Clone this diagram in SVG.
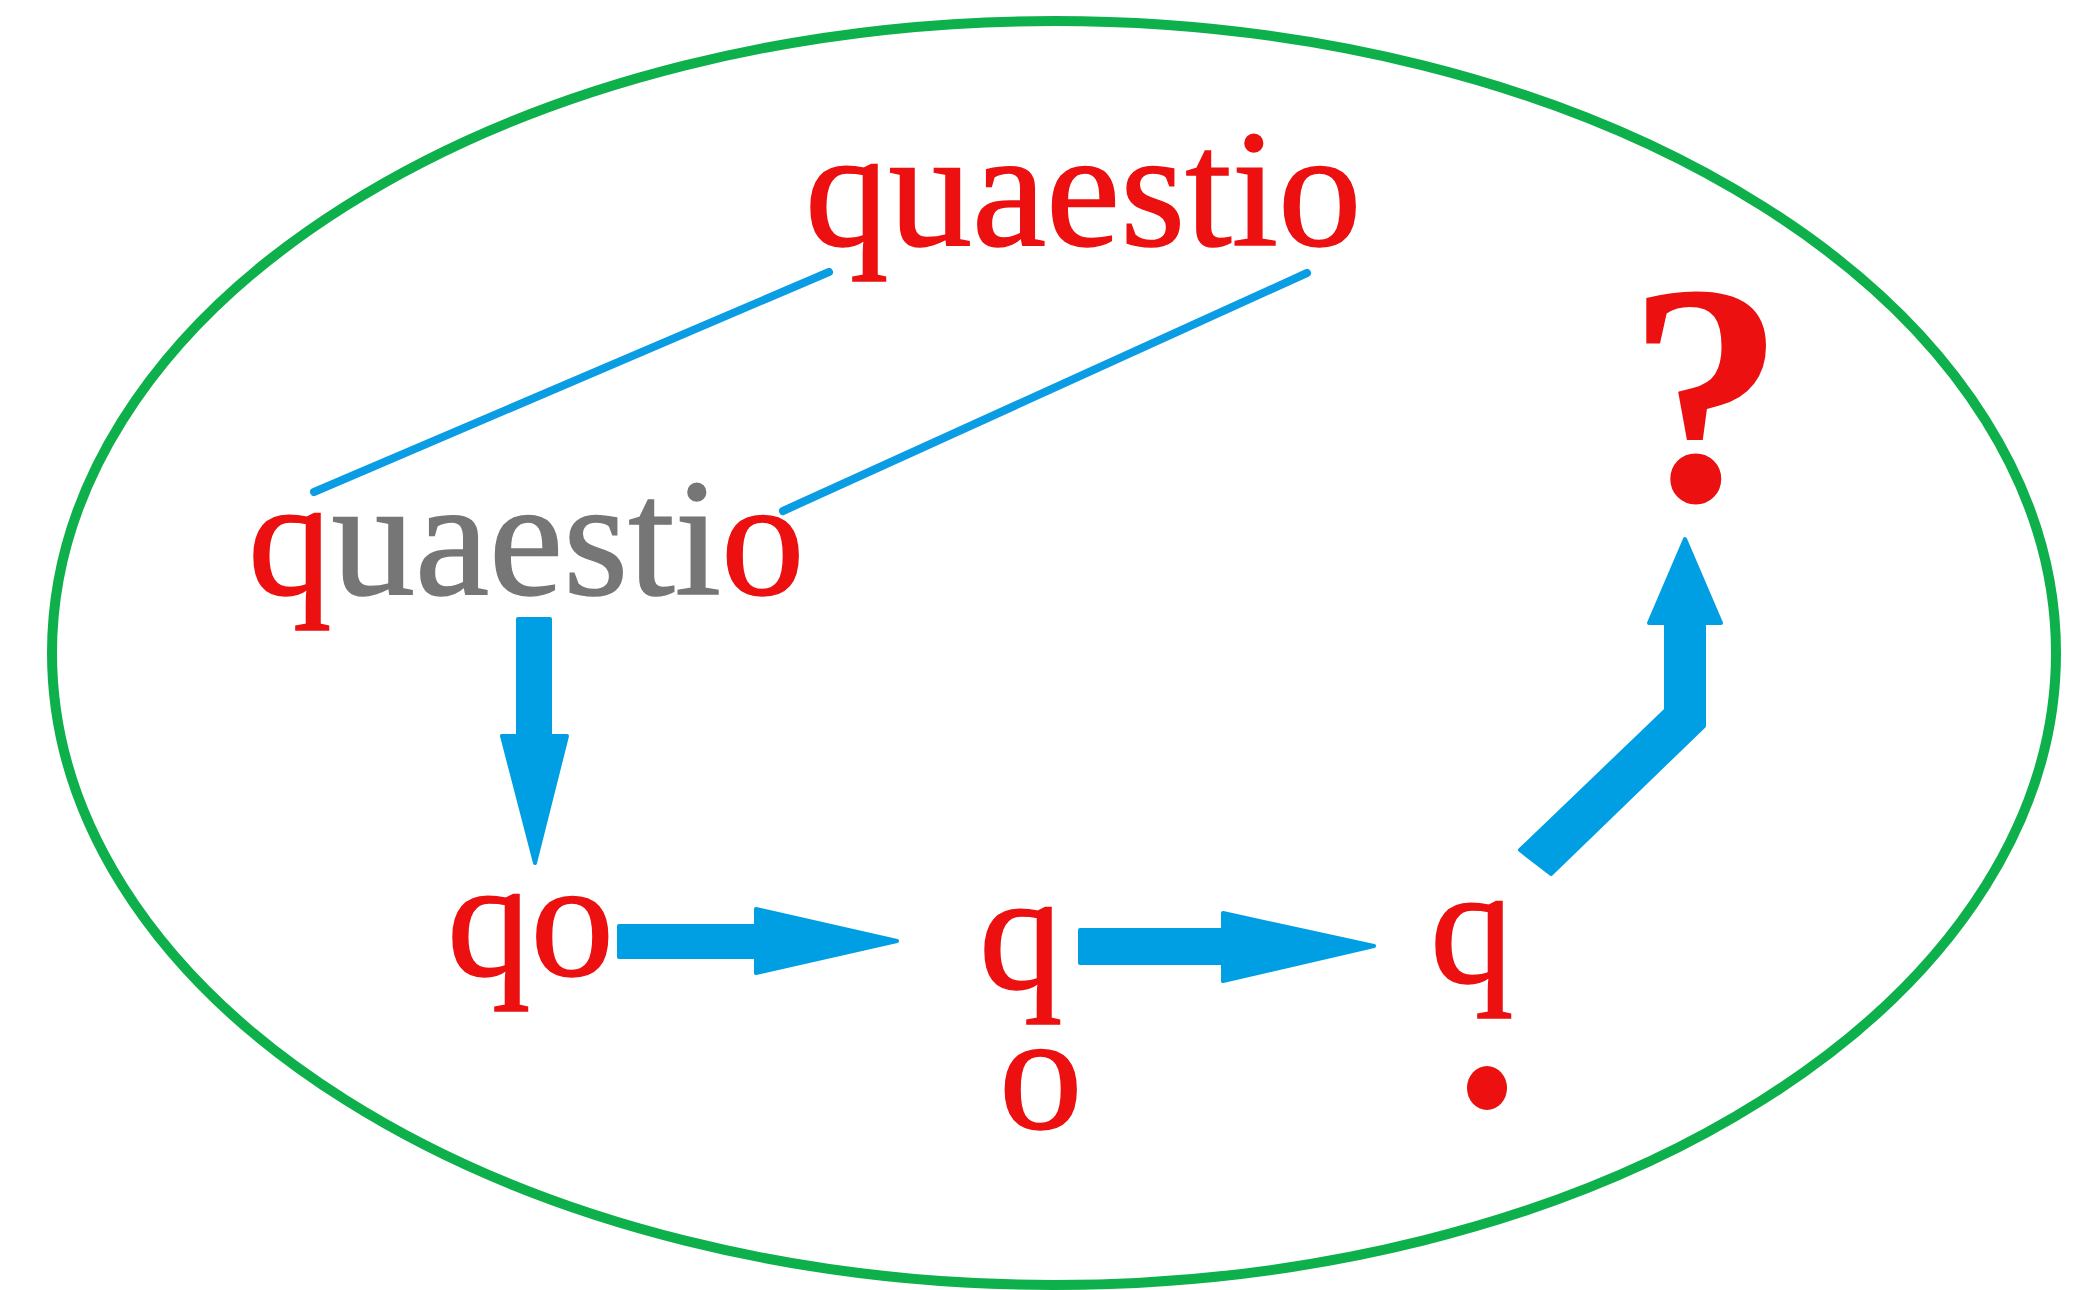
<svg xmlns="http://www.w3.org/2000/svg" width="2080" height="1290" viewBox="0 0 2080 1290">
<style>
.t{font-family:"Liberation Serif","Times New Roman",serif;font-size:167px;fill:#ec1010;stroke:#ec1010;stroke-width:1.5}
.g{fill:#767676;stroke:#767676}
.q{font-family:"Liberation Serif","Times New Roman",serif;font-size:315px;font-weight:bold;fill:#ec1010}
.thin{stroke:#0a9de3;stroke-width:8;stroke-linecap:round;fill:none}
.arr{fill:#009fe3;stroke:#009fe3;stroke-width:4;stroke-linejoin:round}
</style>
<rect width="2080" height="1290" fill="#ffffff"/>
<g id="frame"><ellipse cx="1054" cy="653" rx="1002" ry="632" fill="none" stroke="#0db04b" stroke-width="10"/></g>
<g id="connectors">
<line class="thin" x1="314" y1="492" x2="829" y2="272"/>
<line class="thin" x1="783" y1="511" x2="1307" y2="273"/>
<path class="arr" d="M518 619 H550 V736 H567 L535 863 L502 736 H518 Z"/>
<path class="arr" d="M619 926 H756 V909 L897 941 L756 973 V957 H619 Z"/>
<path class="arr" d="M1080 930 H1223 V913 L1374 946 L1223 981 V963 H1080 Z"/>
<path class="arr" d="M1520 850 L1666 710 V623 H1649 L1685 539 L1721 623 H1704 V726 L1551 874 Z"/>
</g>
<g id="top-word"><text class="t" x="805" y="245">quaestio</text></g>
<g id="mid-word"><text class="t" x="248" y="594">q<tspan class="g">uaesti</tspan>o</text></g>
<g id="qo"><text class="t" x="447" y="975">qo</text></g>
<g id="q-o"><text class="t" x="979" y="988">q</text><text class="t" x="999" y="1128">o</text></g>
<g id="q-dot"><text class="t" x="1430" y="982">q</text><ellipse cx="1487" cy="1088" rx="20" ry="22" fill="#ec1010"/></g>
<g id="question"><text class="q" x="1706" y="500" text-anchor="middle">?</text></g>
</svg>
